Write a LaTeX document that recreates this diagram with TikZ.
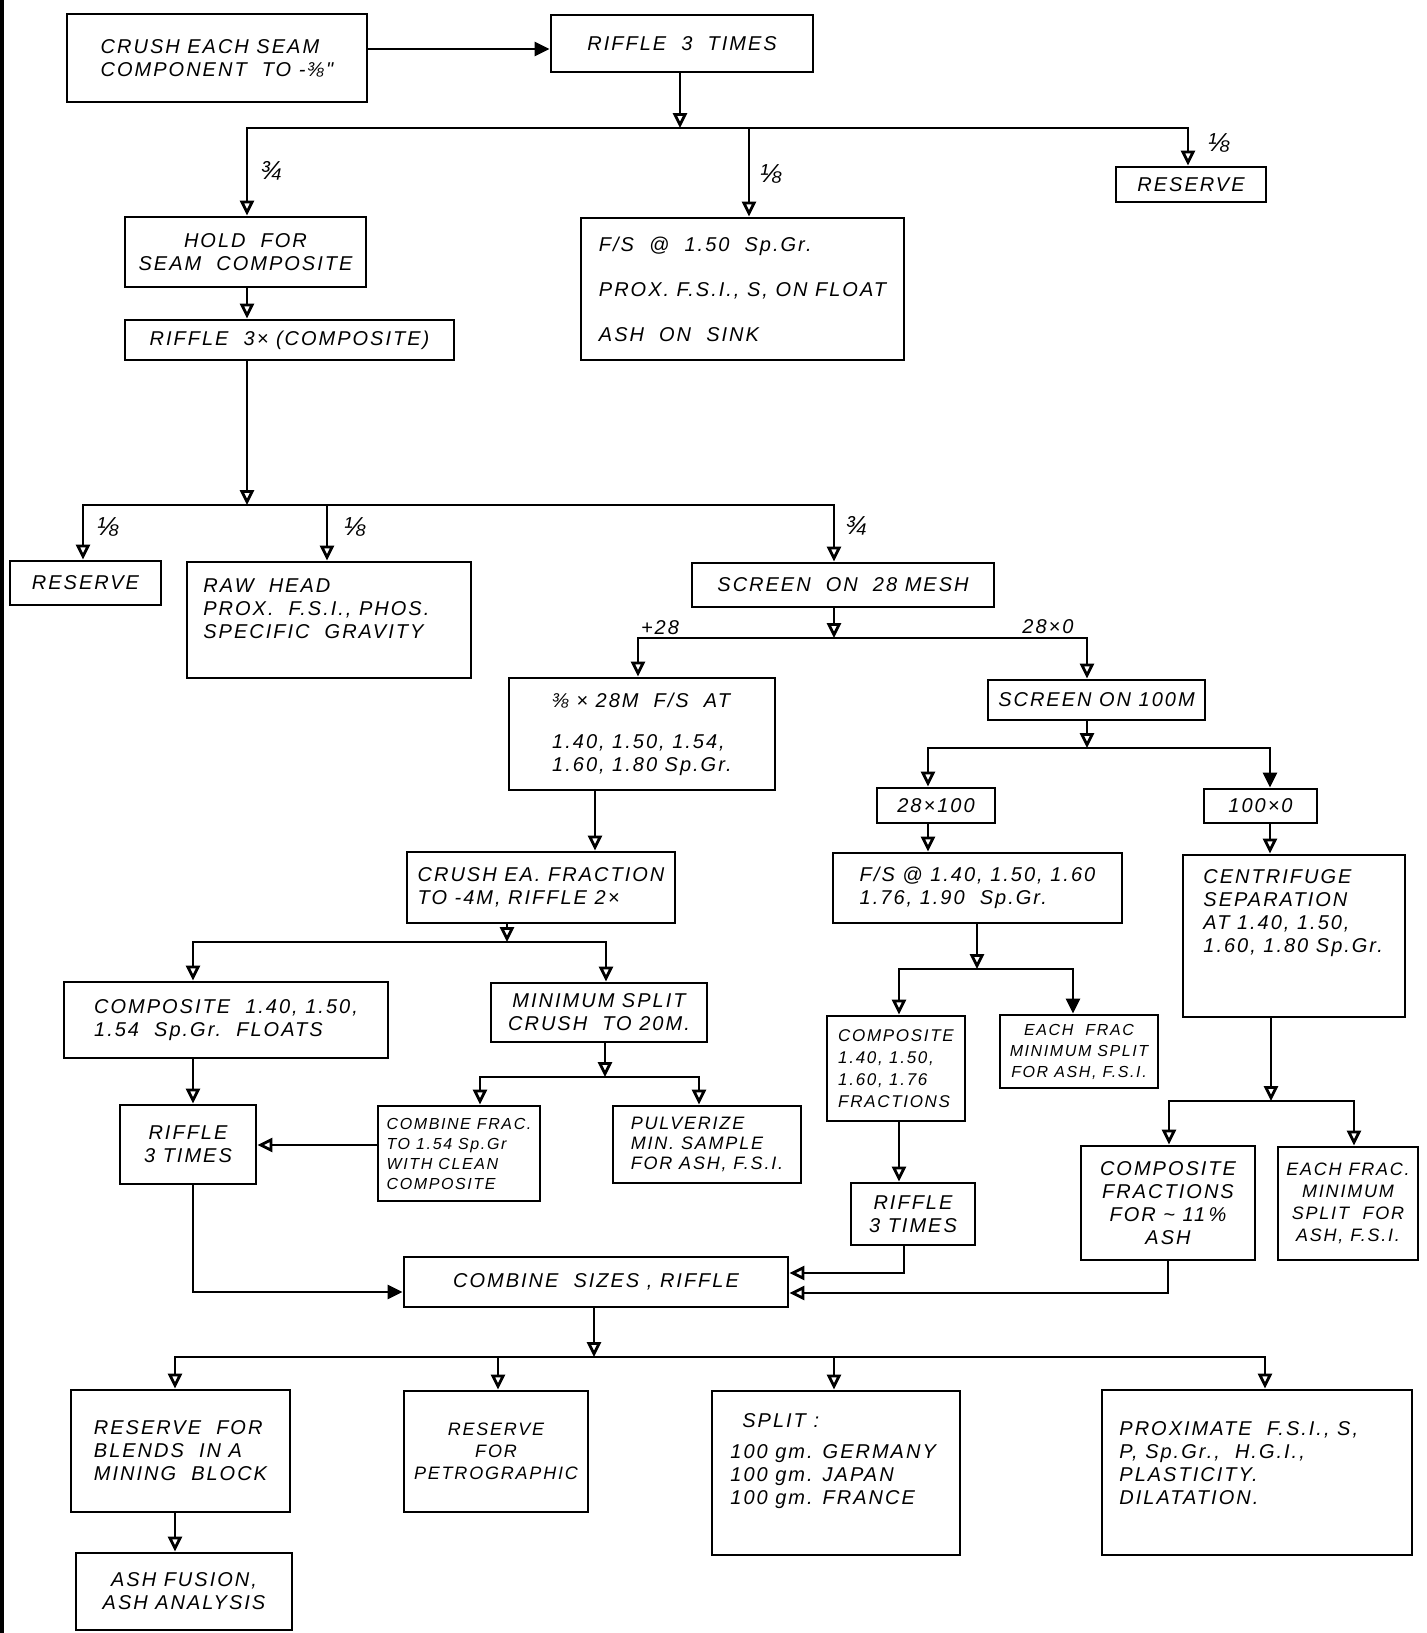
\documentclass[tikz,border=0pt]{standalone}
\usepackage{fontspec}
\newfontfamily\hand{Liberation Sans}[LetterSpace=10]
\usetikzlibrary{arrows.meta}

\tikzset{
  fs/.style 2 args={font=\hand\itshape\fontsize{#1}{#2}\selectfont},
  area/.style n args={4}{at={({(#1+#3)/2},{(#2+#4)/2})},
      minimum width={(#3-#1)*0.5pt}, minimum height={(#4-#2)*0.5pt}},
  blk/.style={draw, line width=1.4pt, inner sep=0pt, align=center, fs={10}{11.5}},
  txt/.style={inner sep=0pt, align=left, fs={10}{11.5}},
  lbl/.style={inner sep=0pt, fs={13}{13}},
  ln/.style={line width=1.4pt},
  arr/.style={line width=1.4pt, -{Triangle[open, length=7.5pt, width=7pt]}},
  arrs/.style={line width=1.4pt, -{Triangle[length=7.5pt, width=7pt]}},
  darr/.style={line width=1.4pt, {Triangle[open, length=7.5pt, width=7pt]}-{Triangle[open, length=7.5pt, width=7pt]}},
  darrs/.style={line width=1.4pt, {Triangle[open, length=7.5pt, width=7pt]}-{Triangle[length=7.5pt, width=7pt]}},
}

\begin{document}
\begin{tikzpicture}[x=0.5pt, y=-0.5pt]

    \useasboundingbox (0,0) rectangle (1427,1633);

    % left edge of the sheet
    \draw[line width=2pt] (2,0) -- (2,1633);

    % top part
    \node[blk, area={67}{14}{367}{102}, align=left] (crush) {CRUSH EACH SEAM\\COMPONENT~~TO -⅜"};
    \node[blk, area={551}{15}{813}{72}] (riffle) {RIFFLE~~3~~TIMES};
    \node[blk, area={125}{217}{366}{287}] (hold) {HOLD~~FOR\\SEAM~~COMPOSITE};
    \node[blk, area={125}{320}{454}{360}] (rifc) {RIFFLE~~3×~(COMPOSITE)};
    \node[blk, area={581}{218}{904}{360}, align=left] (fsa)
        {F/S~~@~~1.50~~Sp.Gr.\\[11pt]PROX. F.S.I., S, ON FLOAT\\[11pt]ASH~~ON~~SINK};
    \node[blk, area={1116}{167}{1266}{202}] (resa) {RESERVE};

    % second split
    \node[blk, area={10}{561}{161}{605}] (resb) {RESERVE};
    \node[blk, area={187}{562}{471}{678}] (raw) {};
    \node[txt, anchor=north west] (rawT) at (203,578) {RAW~~HEAD\\PROX.~~F.S.I., PHOS.\\SPECIFIC~~GRAVITY};
    \node[blk, area={692}{563}{994}{607}] (scr28) {SCREEN~~ON~~28 MESH};

    % +28 side
    \node[blk, area={509}{678}{775}{790}, align=left] (m28)
        {⅜ × 28M~~F/S~~AT\\[9pt]1.40, 1.50, 1.54,\\1.60, 1.80 Sp.Gr.};
    \node[blk, area={407}{852}{675}{923}, align=left] (crea) {CRUSH EA. FRACTION\\TO -4M, RIFFLE 2×};
    \node[blk, area={64}{982}{388}{1058}, align=left] (compa) {COMPOSITE~~1.40, 1.50,\\1.54~~Sp.Gr.~~FLOATS};
    \node[blk, area={491}{983}{707}{1042}] (minsp) {MINIMUM SPLIT\\CRUSH~~TO 20M.};
    \node[blk, area={120}{1105}{256}{1184}] (rifa) {RIFFLE\\3 TIMES};
    \node[blk, area={378}{1106}{540}{1201}, align=left, fs={8}{10}] (combf)
        {COMBINE FRAC.\\TO 1.54 Sp.Gr\\WITH CLEAN\\COMPOSITE};
    \node[blk, area={613}{1106}{801}{1183}, align=left, fs={9}{10}] (pulv) {PULVERIZE\\MIN. SAMPLE\\FOR ASH, F.S.I.};

    % 28 x 0 side
    \node[blk, area={988}{680}{1205}{720}] (scr100) {SCREEN ON 100M};
    \node[blk, area={877}{788}{995}{823}] (s28) {28×100};
    \node[blk, area={1204}{789}{1317}{823}] (s100) {100×0};
    \node[blk, area={833}{853}{1122}{923}, align=left] (fsb) {F/S @ 1.40, 1.50, 1.60\\1.76, 1.90~~Sp.Gr.};
    \node[blk, area={1183}{855}{1405}{1017}] (cen) {};
    \node[txt, anchor=north west] (cenT) at (1203,869) {CENTRIFUGE\\SEPARATION\\AT 1.40, 1.50,\\1.60, 1.80 Sp.Gr.};
    \node[blk, area={827}{1016}{965}{1121}, align=left, fs={8.5}{11}] (compb) {COMPOSITE\\1.40, 1.50,\\1.60, 1.76\\FRACTIONS};
    \node[blk, area={1000}{1015}{1158}{1088}, fs={8}{10.5}] (eachb) {EACH~~FRAC\\MINIMUM SPLIT\\FOR ASH, F.S.I.};
    \node[blk, area={851}{1183}{975}{1245}] (rifb) {RIFFLE\\3 TIMES};
    \node[blk, area={1081}{1146}{1255}{1260}] (compc) {COMPOSITE\\FRACTIONS\\FOR \textasciitilde{} 11\,\%\\ASH};
    \node[blk, area={1278}{1147}{1418}{1260}, fs={9}{11}] (eachc) {EACH FRAC.\\MINIMUM\\SPLIT~~FOR\\ASH, F.S.I.};

    % bottom part
    \node[blk, area={404}{1257}{788}{1307}] (combs) {COMBINE~~SIZES~, RIFFLE};
    \node[blk, area={71}{1390}{290}{1512}, align=left] (blend) {RESERVE~~FOR\\BLENDS~~IN A\\MINING~~BLOCK};
    \node[blk, area={404}{1391}{588}{1512}, fs={9}{11}] (petro) {RESERVE\\FOR\\PETROGRAPHIC};
    \node[blk, area={712}{1391}{960}{1555}] (split) {};
    \node[txt, anchor=north west] (splitT) at (730,1413)
        {\hspace{6pt}SPLIT~:\\[4pt]100 gm. GERMANY\\100 gm. JAPAN\\100 gm. FRANCE};
    \node[blk, area={1102}{1390}{1412}{1555}] (prox) {};
    \node[txt, anchor=north west] (proxT) at (1119,1421)
        {PROXIMATE~~F.S.I., S,\\P, Sp.Gr., ~H.G.I.,\\PLASTICITY.\\DILATATION.};
    \node[blk, area={76}{1553}{292}{1630}] (ashf) {ASH FUSION,\\ASH ANALYSIS};

    % crush -> riffle
    \coordinate (c0) at (367,49);
    \draw[arrs] (c0) -- (c0 -| riffle.west);

    % split 1
    \coordinate (j1) at (680,128);
    \coordinate (b1a) at (247,128);
    \coordinate (b1b) at (749,128);
    \coordinate (b1c) at (1188,128);
    \draw[arr] (riffle.south -| j1) -- (j1);
    \draw[darr] (b1a |- hold.north) -- (b1a) -- (b1c) -- (b1c |- resa.north);
    \draw[arr] (b1b) -- (b1b |- fsa.north);
    \draw[arr] (hold.south -| b1a) -- (b1a |- rifc.north);
    \node[lbl] (f1) at (271,171) {¾};
    \node[lbl] (f2) at (771,174) {⅛};
    \node[lbl] (f3) at (1219,143) {⅛};

    % split 2
    \coordinate (j2) at (247,505);
    \coordinate (b2a) at (83,505);
    \coordinate (b2b) at (327,505);
    \coordinate (b2c) at (834,505);
    \draw[arr] (rifc.south -| j2) -- (j2);
    \draw[darr] (b2a |- resb.north) -- (b2a) -- (b2c) -- (b2c |- scr28.north);
    \draw[arr] (b2b) -- (b2b |- raw.north);
    \node[lbl] (f4) at (108,527) {⅛};
    \node[lbl] (f5) at (355,527) {⅛};
    \node[lbl] (f6) at (856,526) {¾};

    % screen 28 mesh
    \coordinate (j3) at (834,638);
    \coordinate (b3a) at (638,638);
    \coordinate (b3b) at (1087,638);
    \draw[arr] (scr28.south -| j3) -- (j3);
    \draw[darr] (b3a |- m28.north) -- (b3a) -- (b3b) -- (b3b |- scr100.north);
    \node[txt] (p28) at (660,628) {+28};
    \node[txt] (m280) at (1048,627) {28×0};

    % screen 100 mesh
    \coordinate (j4) at (1087,748);
    \coordinate (b4a) at (928,748);
    \coordinate (b4b) at (1270,748);
    \draw[arr] (scr100.south -| j4) -- (j4);
    \draw[darrs] (b4a |- s28.north) -- (b4a) -- (b4b) -- (b4b |- s100.north);
    \draw[arr] (s28.south -| b4a) -- (b4a |- fsb.north);
    \draw[arr] (s100.south -| b4b) -- (b4b |- cen.north);

    % plus 28 branch
    \coordinate (c1) at (595,790);
    \draw[arr] (c1) -- (c1 |- crea.north);
    \coordinate (j5) at (507,942);
    \coordinate (b5a) at (193,942);
    \coordinate (b5b) at (606,942);
    \draw[arr] (crea.south -| j5) -- (j5);
    \draw[darr] (b5a |- compa.north) -- (b5a) -- (b5b) -- (b5b |- minsp.north);
    \draw[arr] (compa.south -| b5a) -- (b5a |- rifa.north);
    \coordinate (j6) at (605,1077);
    \coordinate (b6a) at (480,1077);
    \coordinate (b6b) at (699,1077);
    \draw[arr] (minsp.south -| j6) -- (j6);
    \draw[darr] (b6a |- combf.north) -- (b6a) -- (b6b) -- (b6b |- pulv.north);
    \coordinate (c2) at (378,1145);
    \draw[arr] (c2) -- (c2 -| rifa.east);

    % 28 x 100 branch
    \coordinate (j7) at (977,969);
    \coordinate (b7a) at (899,969);
    \coordinate (b7b) at (1073,969);
    \draw[arr] (fsb.south -| j7) -- (j7);
    \draw[darrs] (b7a |- compb.north) -- (b7a) -- (b7b) -- (b7b |- eachb.north);
    \draw[arr] (compb.south -| b7a) -- (b7a |- rifb.north);

    % 100 x 0 branch
    \coordinate (j8) at (1271,1101);
    \coordinate (b8a) at (1169,1101);
    \coordinate (b8b) at (1354,1101);
    \draw[arr] (cen.south -| j8) -- (j8);
    \draw[darr] (b8a |- compc.north) -- (b8a) -- (b8b) -- (b8b |- eachc.north);

    % into combine sizes
    \coordinate (k1) at (193,1292);
    \coordinate (k2) at (904,1273);
    \coordinate (k3) at (1168,1293);
    \draw[arrs] (rifa.south -| k1) -- (k1) -- (k1 -| combs.west);
    \draw[arr] (rifb.south -| k2) -- (k2) -- (k2 -| combs.east);
    \draw[arr] (compc.south -| k3) -- (k3) -- (k3 -| combs.east);

    % final split
    \coordinate (j9) at (594,1357);
    \coordinate (b9a) at (175,1357);
    \coordinate (b9b) at (498,1357);
    \coordinate (b9c) at (834,1357);
    \coordinate (b9d) at (1265,1357);
    \draw[arr] (combs.south -| j9) -- (j9);
    \draw[darr] (b9a |- blend.north) -- (b9a) -- (b9d) -- (b9d |- prox.north);
    \foreach \bb/\nn in {b9b/petro, b9c/split}
        \draw[arr] (\bb) -- (\bb |- \nn.north);
    \draw[arr] (blend.south -| b9a) -- (b9a |- ashf.north);

\end{tikzpicture}
\end{document}
